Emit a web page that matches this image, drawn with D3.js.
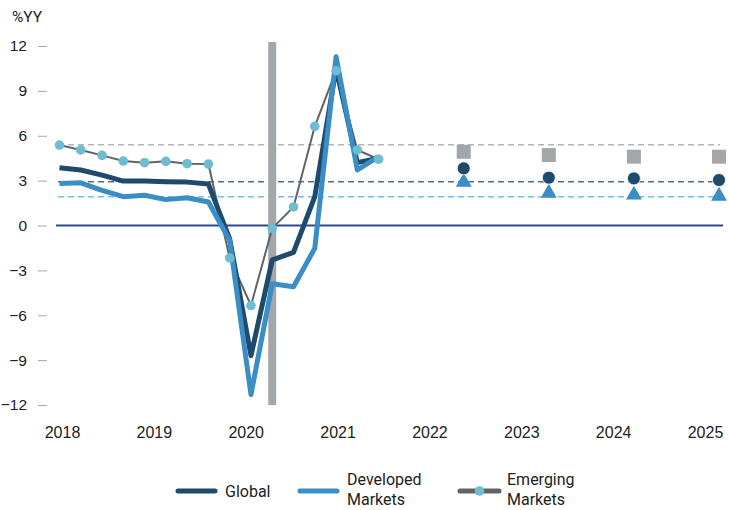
<!DOCTYPE html>
<html>
<head>
<meta charset="utf-8">
<script src="https://cdn.jsdelivr.net/npm/d3@7"></script>
<style>
  body { margin: 0; background: #fff; }
  svg { display: block; font-family: Roboto, "Open Sans", sans-serif; }
  .tick line { stroke: #a8a8a8; }
  .tick text { fill: #222; }
</style>
</head>
<body>
<div id="chart"></div>
<script>
'use strict';

// quarterly history, 2018Q1 .. 2021Q4 (index 0..15)
var histIndex = d3.range(16);
var globalVals    = [3.86, 3.71, 3.37, 2.97, 2.97, 2.93, 2.9, 2.77, -0.9, -8.7, -2.3, -1.8, 1.93, 10.5, 4.2, 4.5];
var developedVals = [2.8, 2.85, 2.35, 1.93, 2.02, 1.73, 1.86, 1.57, -1.0, -11.3, -3.9, -4.1, -1.52, 11.28, 3.71, 4.6];
var emergingVals  = [5.38, 5.05, 4.69, 4.31, 4.2, 4.29, 4.13, 4.11, -2.17, -5.35, -0.19, 1.24, 6.63, 10.35, 5.05, 4.43];

// annual forecasts (Q4 of 2022..2025)
var forecastIndex     = [19, 23, 27, 31];
var globalForecast    = [3.82, 3.2, 3.15, 3.04];
var developedForecast = [2.9, 2.17, 2.04, 1.97];
var emergingForecast  = [4.93, 4.71, 4.6, 4.6];

// long-run averages (dashed)
var avgGlobal = 2.93, avgDeveloped = 1.93, avgEmerging = 5.4;

var shockIndex = 10;   // grey bar
var yearLabels = ["2018", "2019", "2020", "2021", "2022", "2023", "2024", "2025"];
var yTicks = [-12, -9, -6, -3, 0, 3, 6, 9, 12];

var WIDTH = 729, HEIGHT = 510;
var NAVY = "#1e4a6d", BLUE = "#3a8dc5", GREY = "#606468", DOT = "#6dbcd2", BAR = "#a3a7aa";

var svg = d3.select("#chart").append("svg")
    .attr("width", WIDTH)
    .attr("height", HEIGHT);

var x = d3.scaleLinear().domain([0, 31]).range([59.5, 719]);
var y = d3.scaleLinear().domain([-12, 12]).range([405, 46]);
var xLabels = d3.scalePoint().domain(yearLabels).range([62, 705]);

// y axis
var yAxis = svg.append("g")
    .attr("transform", "translate(47,0)")
    .call(d3.axisLeft(y).tickValues(yTicks).tickSize(9).tickPadding(11));
yAxis.select(".domain").remove();
yAxis.selectAll("text").style("font-size", "15.5px");

svg.append("text")
    .attr("x", 12)
    .attr("y", 22)
    .attr("fill", "#222")
    .style("font-size", "15.5px")
    .text("%YY");

// x axis labels
var xAxis = svg.append("g")
    .attr("transform", "translate(0,424)")
    .call(d3.axisBottom(xLabels).tickSize(0).tickPadding(3));
xAxis.select(".domain").remove();
xAxis.selectAll("text").style("font-size", "16px");

// dashed averages
function dashed(val, color) {
    svg.append("line")
        .attr("x1", 58).attr("x2", 720)
        .attr("y1", y(val)).attr("y2", y(val))
        .attr("stroke", color)
        .attr("stroke-width", 1.5)
        .attr("stroke-dasharray", "6,4");
}
dashed(avgEmerging, "#b3b6b8");
dashed(avgGlobal, "#4d6d8c");
dashed(avgDeveloped, "#6cc4de");

// zero line
svg.append("line")
    .attr("x1", 56).attr("x2", 723)
    .attr("y1", y(0)).attr("y2", y(0))
    .attr("stroke", "#2c4a8e")
    .attr("stroke-width", 2);

// grey bar
svg.append("rect")
    .attr("x", x(shockIndex) - 4)
    .attr("y", 42)
    .attr("width", 8)
    .attr("height", 405 - 42)
    .attr("fill", BAR);

var line = d3.line()
    .x(function (d) { return x(d[0]); })
    .y(function (d) { return y(d[1]); });

function series(vals, color, width) {
    svg.append("path")
        .datum(d3.zip(histIndex, vals))
        .attr("d", line)
        .attr("fill", "none")
        .attr("stroke", color)
        .attr("stroke-width", width)
        .attr("stroke-linejoin", "round");
}
series(emergingVals, GREY, 2);
series(globalVals, NAVY, 5);
series(developedVals, BLUE, 5);

svg.selectAll(".emdot")
    .data(d3.zip(histIndex, emergingVals))
    .enter().append("circle")
    .attr("class", "emdot")
    .attr("cx", function (d) { return x(d[0]); })
    .attr("cy", function (d) { return y(d[1]); })
    .attr("r", 4.8)
    .attr("fill", DOT);

// forecast markers
svg.selectAll(".fsq")
    .data(d3.zip(forecastIndex, emergingForecast))
    .enter().append("rect")
    .attr("class", "fsq")
    .attr("x", function (d) { return x(d[0]) - 7; })
    .attr("y", function (d) { return y(d[1]) - 7; })
    .attr("width", 14)
    .attr("height", 14)
    .attr("fill", BAR);

var tri = d3.symbol().type(d3.symbolTriangle).size(110);
svg.selectAll(".ftri")
    .data(d3.zip(forecastIndex, developedForecast))
    .enter().append("path")
    .attr("class", "ftri")
    .attr("d", tri)
    .attr("transform", function (d) { return "translate(" + x(d[0]) + "," + y(d[1]) + ")"; })
    .attr("fill", BLUE);

svg.selectAll(".fcirc")
    .data(d3.zip(forecastIndex, globalForecast))
    .enter().append("circle")
    .attr("class", "fcirc")
    .attr("cx", function (d) { return x(d[0]); })
    .attr("cy", function (d) { return y(d[1]); })
    .attr("r", 6.5)
    .attr("fill", NAVY)
    .attr("stroke", "#fff")
    .attr("stroke-width", 0.8);

// legend
var legend = svg.append("g").style("font-size", "16px").attr("fill", "#222");

function legendLine(x1, x2, color, width) {
    legend.append("line")
        .attr("x1", x1).attr("x2", x2)
        .attr("y1", 491).attr("y2", 491)
        .attr("stroke", color)
        .attr("stroke-width", width)
        .attr("stroke-linecap", "round");
}
legendLine(178, 215, NAVY, 5);
legend.append("text").attr("x", 225).attr("y", 496.5).text("Global");

legendLine(300, 337, BLUE, 5);
legend.append("text").attr("x", 347).attr("y", 485).text("Developed");
legend.append("text").attr("x", 347).attr("y", 505).text("Markets");

legendLine(460, 499, GREY, 5);
legend.append("circle").attr("cx", 479.5).attr("cy", 491).attr("r", 4.8).attr("fill", DOT);
legend.append("text").attr("x", 507).attr("y", 485).text("Emerging");
legend.append("text").attr("x", 507).attr("y", 505).text("Markets");
</script>
</body>
</html>
